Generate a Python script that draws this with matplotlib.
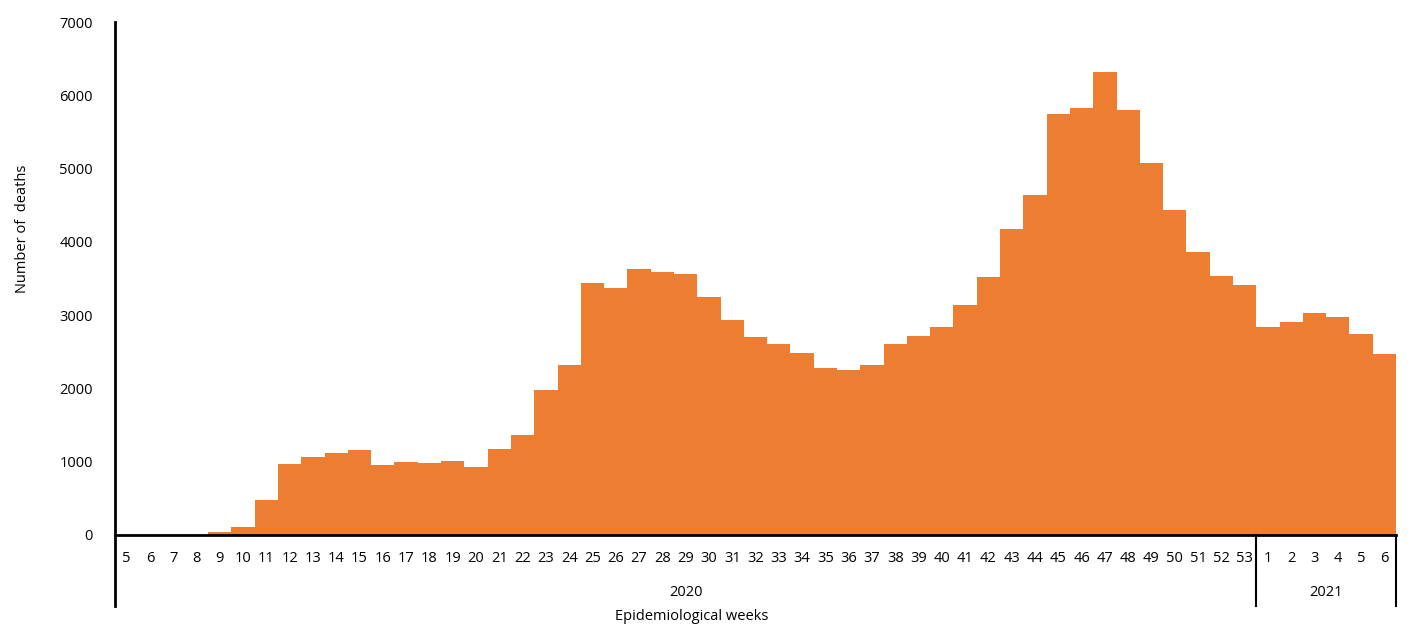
import matplotlib
matplotlib.use("Agg")
import matplotlib.pyplot as plt
from matplotlib.lines import Line2D

weeks_2020 = list(range(5, 54))
weeks_2021 = list(range(1, 7))
deaths_2020 = [0, 0, 0, 5, 37, 110, 478, 969, 1064, 1119, 1160, 955, 996, 982, 1010, 928,
               1180, 1358, 1972, 2313, 3432, 3377, 3623, 3582, 3568, 3254, 2927, 2695,
               2613, 2477, 2272, 2258, 2313, 2613, 2722, 2845, 3145, 3514, 4170, 4633,
               5738, 5820, 6311, 5793, 5070, 4429, 3856, 3528, 3418]
deaths_2021 = [2845, 2900, 3023, 2968, 2736, 2463]
years = ["2020", "2021"]

labels = [str(w) for w in weeks_2020] + [str(w) for w in weeks_2021]
values = deaths_2020 + deaths_2021
n = len(values)
xs = list(range(n))

plt.rcParams['font.family'] = ['Open Sans', 'DejaVu Sans']

W, H = 1414, 637
fig = plt.figure(figsize=(W / 100, H / 100), dpi=100)
left, right, top, bottom = 115, 1396, 22, 535
ax = fig.add_axes([left / W, 1 - bottom / H, (right - left) / W, (bottom - top) / H])

ax.bar(xs, values, width=1.0, color="#ED7D31", linewidth=0)
ax.set_xlim(-0.5, n - 0.5)
ax.set_ylim(0, 7000)
ax.set_yticks(range(0, 7001, 1000))
ax.tick_params(axis='y', length=0, pad=16, labelsize=10.5, labelcolor="#000000")
ax.set_xticks([])
for s in ["top", "right", "left"]:
    ax.spines[s].set_visible(False)
ax.spines["bottom"].set_linewidth(2)
ax.spines["bottom"].set_color("black")

axh = bottom - top
def yf(px_below):
    return -px_below / axh

tr = ax.get_xaxis_transform()
for x, lab in zip(xs, labels):
    ax.text(x, yf(23), lab, transform=tr, ha="center", va="center", fontsize=10.5)

# multi-level axis lines
ax.add_line(Line2D([-0.5, -0.5], [1, yf(71)], transform=tr, color="black", lw=2, clip_on=False))
sep = len(weeks_2020) - 0.5
ax.add_line(Line2D([sep, sep], [0, yf(71)], transform=tr, color="black", lw=1.5, clip_on=False))
ax.add_line(Line2D([n - 0.5, n - 0.5], [0, yf(71)], transform=tr, color="black", lw=1.5, clip_on=False))

ax.text((-0.5 + sep) / 2, yf(58), years[0], transform=tr, ha="center", va="center", fontsize=10.5)
ax.text((sep + n - 0.5) / 2, yf(58), years[1], transform=tr, ha="center", va="center", fontsize=10.5)

fig.text(692 / W, 1 - 617 / H, "Epidemiological weeks", ha="center", va="center", fontsize=10.5)
fig.text(23 / W, 1 - 229 / H, "Number of  deaths", ha="center", va="center", rotation=90, fontsize=10.5)

fig.savefig("out.png", dpi=100)
